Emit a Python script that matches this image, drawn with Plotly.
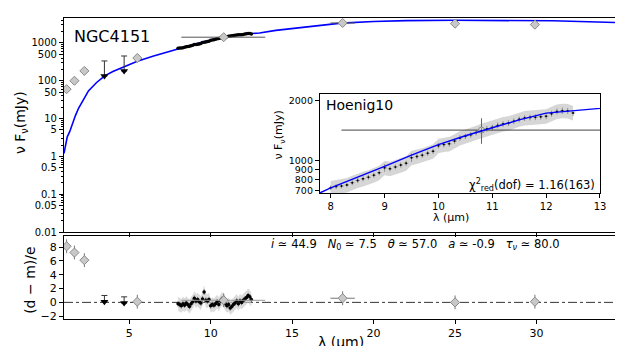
import plotly.graph_objects as go

# model SED (blue curve)
model_wl = [1.0, 1.1, 1.2, 1.35, 1.5, 1.7, 1.9, 2.2, 2.5, 3.0, 3.5, 4.0, 4.7, 5.5, 6.5,
            7.5, 7.8, 8.0, 8.5, 9.0, 9.5, 10.0, 10.5, 11.0, 11.5, 12.0, 12.5, 13.0, 14.0,
            16.0, 18.0, 20.0, 22.0, 25.0, 28.0, 31.0, 35.0]
model_flux = [1.2, 2.2, 3.3, 4.5, 7, 12, 19, 33, 54, 90, 135, 175, 235, 330, 450,
              600, 683, 725, 820, 930, 1060, 1200, 1330, 1455, 1600, 1730, 1780, 1830, 2150,
              2650, 3350, 3700, 3900, 3980, 3980, 3850, 3450]

# photometry (grey diamonds)
phot_wl = [1.16, 1.64, 2.25, 5.5, 18.1, 25.0, 29.9]
phot_flux = [60, 100, 182, 400, 3380, 3240, 3050]
phot_err = [8, 12, 20, 50, 300, 300, 300]
phot_xerr = [0.1, 0.0, 0.0, 0.0, 0.75, 0.0, 0.0]
phot_res = [8.1, 7.2, 6.1, 0.1, 0.6, 0.0, 0.1]

# upper limits (black arrows)
lim_wl = [3.48, 4.69]
lim_flux = [134, 182]
lim_up = [200, 270]
lim_res = [0.1, -0.1]
lim_res_up = [0.9, 0.9]

# N-band point with wide filter
nb_wl = [10.8]
nb_flux = [1420]
nb_xminus = [2.6]
nb_xplus = [2.55]
nb_err = [210]
nb_res = [0.3]

# spectrum
spec_wl = [8.0, 8.1, 8.2, 8.3, 8.4, 8.5, 8.6, 8.7, 8.8, 8.9, 9.0, 9.1, 9.2, 9.3, 9.4, 9.5,
           9.6, 9.7, 9.8, 9.9, 10.0, 10.1, 10.2, 10.3, 10.4, 10.5, 10.6, 10.7, 10.8, 10.9,
           11.0, 11.1, 11.2, 11.3, 11.4, 11.5, 11.6, 11.7, 11.8, 11.9, 12.0, 12.1, 12.2,
           12.3, 12.4, 12.5]
spec_flux = [725, 735, 740, 750, 770, 790, 805, 820, 840, 865, 915, 905, 925, 945, 965, 1030,
             1045, 1060, 1085, 1110, 1185, 1200, 1210, 1250, 1295, 1320, 1345, 1380, 1410, 1440,
             1465, 1500, 1525, 1540, 1575, 1610, 1635, 1645, 1650, 1660, 1670, 1720, 1765,
             1780, 1775, 1735]
spec_err = [20, 20, 20, 20, 22, 22, 23, 23, 24, 25, 40, 27, 27, 28, 29, 50,
            32, 32, 33, 34, 37, 38, 38, 40, 42, 43, 44, 45, 46, 48,
            49, 50, 51, 52, 53, 54, 55, 56, 56, 56, 57, 59, 61, 65, 61, 59]
spec_band = [60, 60, 62, 63, 65, 66, 68, 69, 71, 73, 77, 76, 78, 80, 81, 87,
             88, 89, 91, 93, 100, 101, 102, 105, 109, 111, 113, 116, 118, 121,
             123, 126, 128, 129, 132, 135, 137, 138, 139, 139, 140, 144, 148, 149, 149, 146]
spec_res = [-0.2, -0.3, -0.5, -0.2, -0.4, -0.1, -0.3, -0.6, -0.2, 0.1, 0.6, 0.2, 0.4, 0.1, -0.1, 0.5,
            1.5, 0.3, 0.2, 0.4, -0.5, -0.3, -0.4, -0.2, 0.1, -0.3, 0.2, 0.5, 0.3, -0.2,
            -0.5, -0.3, -0.8, -0.6, -0.3, -0.1, 0.2, -0.2, 0.2, 0.0, 0.3, 0.5, 0.7,
            1.0, 0.8, 0.4]

GREY_FILL = "#c8c8c8"
GREY_EDGE = "#8a8a8a"
BAND = "rgba(200,200,200,0.75)"

fig = go.Figure()

# ---------- main panel ----------
fig.add_trace(go.Scatter(x=model_wl, y=model_flux, mode="lines", line=dict(color="#0000ff", width=1.6),
                         xaxis="x", yaxis="y"))
fig.add_trace(go.Scatter(x=spec_wl, y=spec_flux, mode="markers",
                         marker=dict(color="black", size=3.5),
                         error_y=dict(type="data", array=spec_err, color="black", thickness=0.6, width=0),
                         xaxis="x", yaxis="y"))
fig.add_trace(go.Scatter(x=nb_wl, y=nb_flux, mode="markers",
                         marker=dict(symbol="diamond", color=GREY_FILL, size=7, line=dict(color=GREY_EDGE, width=1)),
                         error_x=dict(type="data", symmetric=False, array=nb_xplus, arrayminus=nb_xminus,
                                      color="#555555", thickness=1, width=0),
                         error_y=dict(type="data", array=nb_err, color="#555555", thickness=1, width=0),
                         xaxis="x", yaxis="y"))
fig.add_trace(go.Scatter(x=phot_wl, y=phot_flux, mode="markers",
                         marker=dict(symbol="diamond", color=GREY_FILL, size=7, line=dict(color=GREY_EDGE, width=1)),
                         error_x=dict(type="data", array=phot_xerr, color="#555555", thickness=1, width=0),
                         error_y=dict(type="data", array=phot_err, color="#555555", thickness=1, width=0),
                         xaxis="x", yaxis="y"))
fig.add_trace(go.Scatter(x=lim_wl, y=lim_flux, mode="markers",
                         marker=dict(symbol="triangle-down", color="black", size=7),
                         error_y=dict(type="data", symmetric=False, array=lim_up, arrayminus=[0, 0],
                                      color="#333333", thickness=1, width=3),
                         xaxis="x", yaxis="y"))

# ---------- inset ----------
band_hi = [f + b for f, b in zip(spec_flux, spec_band)]
band_lo = [f - b for f, b in zip(spec_flux, spec_band)]
fig.add_trace(go.Scatter(x=spec_wl + spec_wl[::-1], y=band_hi + band_lo[::-1], fill="toself",
                         fillcolor=BAND, line=dict(width=0), mode="lines",
                         xaxis="x3", yaxis="y3"))
fig.add_trace(go.Scatter(x=nb_wl, y=nb_flux, mode="markers",
                         marker=dict(symbol="circle", color="#d8d8d8", size=6, line=dict(color=GREY_EDGE, width=1)),
                         error_x=dict(type="data", symmetric=False, array=nb_xplus, arrayminus=nb_xminus,
                                      color="#444444", thickness=1, width=0),
                         error_y=dict(type="data", array=nb_err, color="#666666", thickness=1, width=0),
                         xaxis="x3", yaxis="y3"))
fig.add_trace(go.Scatter(x=spec_wl, y=spec_flux, mode="markers",
                         marker=dict(color="black", size=2),
                         error_y=dict(type="data", array=spec_err, color="#444444", thickness=0.5, width=0),
                         error_x=dict(type="data", array=[0.04] * len(spec_wl), color="#444444", thickness=0.5, width=0),
                         xaxis="x3", yaxis="y3"))
fig.add_trace(go.Scatter(x=model_wl, y=model_flux, mode="lines", line=dict(color="#0000ff", width=1.4),
                         xaxis="x3", yaxis="y3"))

# ---------- residuals ----------
fig.add_trace(go.Scatter(x=spec_wl + spec_wl[::-1],
                         y=[r + 1 for r in spec_res] + [r - 1 for r in spec_res][::-1],
                         fill="toself", fillcolor="rgba(205,205,205,0.7)", line=dict(width=0), mode="lines",
                         xaxis="x2", yaxis="y2"))
fig.add_trace(go.Scatter(x=spec_wl, y=spec_res, mode="markers",
                         marker=dict(color="black", size=3.5),
                         error_y=dict(type="data", array=[0.4] * len(spec_wl), color="#333333", thickness=0.6, width=0),
                         xaxis="x2", yaxis="y2"))
fig.add_trace(go.Scatter(x=nb_wl, y=nb_res, mode="markers",
                         marker=dict(symbol="diamond", color=GREY_FILL, size=7, line=dict(color=GREY_EDGE, width=1)),
                         error_x=dict(type="data", symmetric=False, array=nb_xplus, arrayminus=nb_xminus,
                                      color="#999999", thickness=1, width=0),
                         error_y=dict(type="data", array=[1], color="#777777", thickness=1, width=0),
                         xaxis="x2", yaxis="y2"))
fig.add_trace(go.Scatter(x=phot_wl, y=phot_res, mode="markers",
                         marker=dict(symbol="diamond", color=GREY_FILL, size=7, line=dict(color=GREY_EDGE, width=1)),
                         error_x=dict(type="data", array=phot_xerr, color="#777777", thickness=1, width=0),
                         error_y=dict(type="data", array=[1] * len(phot_wl), color="#777777", thickness=1, width=0),
                         xaxis="x2", yaxis="y2"))
fig.add_trace(go.Scatter(x=lim_wl, y=lim_res, mode="markers",
                         marker=dict(symbol="triangle-down", color="black", size=7),
                         error_y=dict(type="data", symmetric=False, array=lim_res_up, arrayminus=[0, 0],
                                      color="#333333", thickness=1, width=3),
                         xaxis="x2", yaxis="y2"))

axis_common = dict(showline=True, linecolor="black", linewidth=1.2, mirror=True, showgrid=False,
                   zeroline=False, ticks="outside", tickcolor="black", ticklen=4, automargin=False,
                   tickfont=dict(family="DejaVu Sans", size=10, color="black"))

minor_top = [m * 10 ** e for e in range(-2, 4) for m in range(2, 10)]


def label(text, x, y, size, angle=0, anchor="center"):
    return dict(text=text, xref="paper", yref="paper", x=x, y=y, xanchor=anchor, yanchor="middle",
                showarrow=False, textangle=angle, font=dict(size=size))


fig.update_layout(
    width=623, height=346, showlegend=False,
    paper_bgcolor="white", plot_bgcolor="white",
    margin=dict(l=56, r=13, t=10, b=35),
    font=dict(family="DejaVu Sans", color="black"),
    xaxis=dict(axis_common, domain=[0, 1], range=[1, 35], anchor="y",
               tickvals=[5, 10, 15, 20, 25, 30], showticklabels=False),
    yaxis=dict(axis_common, domain=[0.289, 1], type="log", range=[-2, 3.66], anchor="x",
               tickvals=[0.01, 0.05, 0.1, 0.5, 1, 5, 10, 50, 100, 500, 1000],
               ticktext=["0.01", "0.05", "0.1", "0.5", "1", "5", "10", "50", "100", "500", "1000"],
               minor=dict(ticks="outside", ticklen=2, tickcolor="black", tickvals=minor_top)),
    xaxis2=dict(axis_common, domain=[0, 1], range=[1, 35], anchor="y2",
                tickvals=[5, 10, 15, 20, 25, 30],
                tickfont=dict(family="DejaVu Sans", size=11, color="black")),
    yaxis2=dict(axis_common, domain=[0, 0.276], range=[-2.4, 9.6], anchor="x2",
                tickvals=[-2, 0, 2, 4, 6, 8], ticktext=["−2", "0", "2", "4", "6", "8"],
                tickfont=dict(family="DejaVu Sans", size=11, color="black")),
    xaxis3=dict(axis_common, domain=[0.462, 0.9675], range=[7.8, 13], anchor="y3",
                tickvals=[8, 9, 10, 11, 12, 13]),
    yaxis3=dict(axis_common, domain=[0.4186, 0.7475], type="log", range=[2.834, 3.335], anchor="x3",
                tickvals=[700, 800, 900, 1000, 2000],
                tickfont=dict(family="DejaVu Sans", size=9.5, color="black")),
    shapes=[dict(type="line", xref="x2 domain", yref="y2", x0=0, x1=1, y0=0, y1=0,
                 line=dict(color="black", width=0.8, dash="dashdot"), layer="below")],
    annotations=[
        label("ν F<sub>ν</sub>(mJy)", -0.0776, 0.651, 14, angle=-90),
        label("(d − m)/e", -0.0614, 0.13, 14, angle=-90),
        label("λ (µm)", 0.5, -0.078, 14),
        label("λ (µm)", 0.6986, 0.337, 11),
        label("ν F<sub>ν</sub>(mJy)", 0.389, 0.611, 11, angle=-90),
        label("NGC4151", 0.015, 0.937, 16, anchor="left"),
        label("Hoenig10", 0.469, 0.711, 14, anchor="left"),
        label("χ<sup>2</sup><sub>red</sub>(dof) = 1.16(163)", 0.962, 0.445, 11.5, anchor="right"),
        label("<i>i</i> ≃ 44.9   <i>N</i><sub>0</sub> ≃ 7.5   <i>θ</i> ≃ 57.0   <i>a</i> ≃ -0.9   "
              "<i>τ<sub>ν</sub></i> ≃ 80.0", 0.635, 0.247, 11.5),
    ],
)

fig.write_html("out.html")
